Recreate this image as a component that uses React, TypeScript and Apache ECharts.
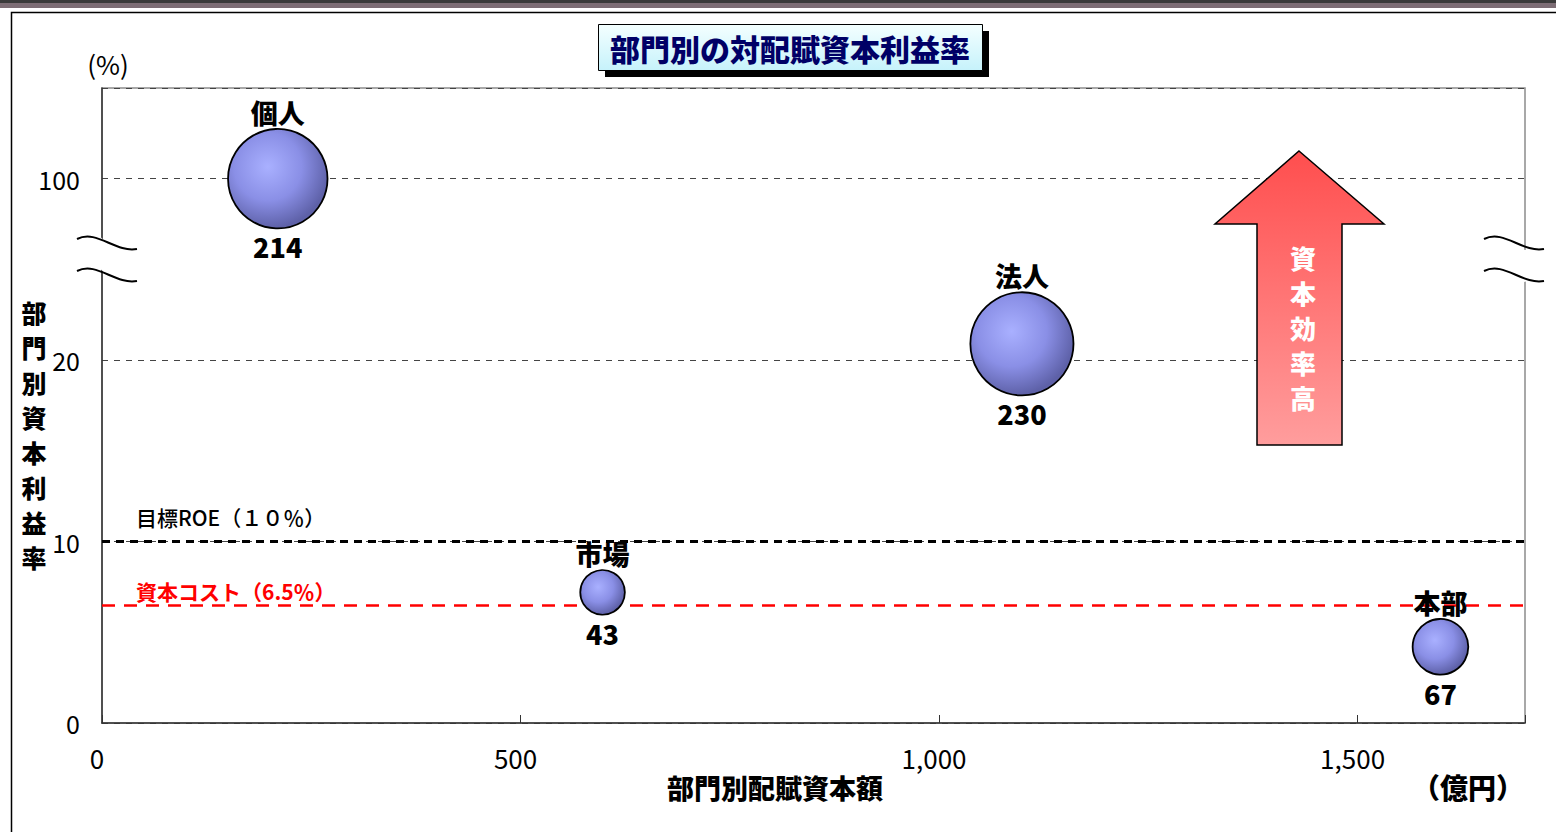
import React, { useEffect, useRef } from "react";
import * as echarts from "echarts";

// Business segments and their figures
const segments = ["個人", "法人", "市場", "本部"];
const allocatedCapital = [210, 1099, 598, 1599]; // 億円
const returnOnCapital = [100, 20.9, 7.2, 4.2]; // %
const segmentProfit = [214, 230, 43, 67]; // bubble size / label

// Reference lines
const targetRoe = 10;
const capitalCost = 6.5;

// Axis ticks
const xTicks = [0, 500, 1000, 1500];
const yTickLabels = ["0", "10", "20", "100"];

const FONT = "'Noto Sans CJK JP', 'Noto Sans', sans-serif";

// values above the break are drawn 70 points lower (100 sits at the 30 slot)
const toAxis = (v: number) => (v > 25 ? v - 70 : v);
const bubbleSize = (p: number) => 6.8 * Math.sqrt(p);

const bubbleFill = {
  type: "radial",
  x: 0.4,
  y: 0.38,
  r: 0.62,
  colorStops: [
    { offset: 0, color: "#a9b0ff" },
    { offset: 0.55, color: "#8a8fe6" },
    { offset: 1, color: "#5e61a8" },
  ],
};

export default function App() {
  const ref = useRef<HTMLDivElement>(null);

  useEffect(() => {
    document.body.style.margin = "0";
    const chart = echarts.init(ref.current!, null, { renderer: "svg" });

    const points = segments.map((name, i) => ({
      name,
      value: [allocatedCapital[i], toAxis(returnOnCapital[i]), segmentProfit[i]],
    }));

    // left & right axis break marks
    const breakMark = (x0: number) => {
      const w = 60;
      const curve = (y: number) => ({
        type: "bezierCurve",
        z: 101,
        shape: {
          x1: x0, y1: y,
          cpx1: x0 + 20, cpy1: y - 10,
          cpx2: x0 + 38, cpy2: y + 14,
          x2: x0 + w, y2: y + 10,
        },
        style: { stroke: "#000", lineWidth: 2, fill: null },
      });
      return [
        {
          type: "polygon",
          z: 100,
          shape: {
            points: [
              [x0, 239], [x0 + 20, 234], [x0 + 38, 250], [x0 + w, 249],
              [x0 + w, 280], [x0 + 38, 282], [x0 + 20, 266], [x0, 271],
            ],
          },
          style: { fill: "#fff" },
        },
        curve(239),
        curve(271),
      ];
    };

    chart.setOption({
      animation: false,
      grid: {
        left: 102,
        top: 88,
        right: 31,
        bottom: 109,
        show: true,
        borderColor: "#8c8c8c",
        borderWidth: 1.5,
      },
      xAxis: {
        type: "value",
        min: 0,
        max: 1700,
        interval: 500,
        axisLine: { lineStyle: { color: "#333", width: 1.5 } },
        axisTick: { show: true, inside: true, length: 8, lineStyle: { color: "#333" } },
        splitLine: { show: false },
        axisLabel: {
          margin: 21,
          color: "#000",
          fontFamily: FONT,
          fontSize: 26,
          padding: [0, 10, 0, 0],
          formatter: (v: number) =>
            xTicks.includes(v) ? v.toLocaleString("en-US") : "",
        },
      },
      yAxis: {
        type: "value",
        min: 0,
        max: 35,
        interval: 10,
        axisLine: { show: true, lineStyle: { color: "#333", width: 1.5 } },
        axisTick: { show: false },
        splitLine: { lineStyle: { color: "#444", type: [6, 6], width: 1 } },
        axisLabel: {
          margin: 22,
          color: "#000",
          fontFamily: FONT,
          fontSize: 25,
          padding: [6, 0, 0, 0],
          showMaxLabel: false,
          formatter: (v: number) => yTickLabels[v / 10] ?? "",
        },
      },
      series: [
        {
          type: "scatter",
          data: points,
          symbolSize: (v: number[]) => bubbleSize(v[2]),
          itemStyle: { color: bubbleFill, borderColor: "#000", borderWidth: 1.8, opacity: 1 },
          label: {
            show: true,
            position: "top",
            distance: 2,
            formatter: (p: any) => p.name,
            color: "#000",
            fontFamily: FONT,
            fontWeight: 900,
            fontSize: 27,
          },
          markLine: {
            silent: true,
            symbol: "none",
            z: 1,
            data: [
              {
                yAxis: targetRoe,
                lineStyle: { color: "#000", type: [8, 6], width: 3 },
                label: {
                  show: true,
                  position: "insideStartTop",
                  distance: [34, 14],
                  formatter: "目標ROE（１０％）",
                  color: "#000",
                  fontFamily: FONT,
                  fontWeight: 500,
                  fontSize: 21,
                },
              },
              {
                yAxis: capitalCost,
                lineStyle: { color: "#ff0000", type: [13, 9], width: 2.5 },
                label: {
                  show: true,
                  position: "insideStartTop",
                  distance: [34, 4],
                  formatter: "資本コスト（6.5％）",
                  color: "#ff0000",
                  fontFamily: FONT,
                  fontWeight: "bold",
                  fontSize: 21,
                },
              },
            ],
          },
        },
        {
          type: "scatter",
          silent: true,
          data: points,
          symbolSize: (v: number[]) => bubbleSize(v[2]),
          itemStyle: { color: "#000", opacity: 0 },
          label: {
            show: true,
            position: "bottom",
            distance: 5,
            opacity: 1,
            formatter: (p: any) => String(p.value[2]),
            color: "#000",
            fontFamily: FONT,
            fontWeight: 900,
            fontSize: 27,
          },
        },
      ],
      graphic: [
        // banner at the top edge
        { type: "rect", z: 100, shape: { x: 0, y: 0, width: 1556, height: 3 }, style: { fill: "#3a3a3a" } },
        { type: "rect", z: 100, shape: { x: 0, y: 3, width: 1556, height: 5 }, style: { fill: "#7d6d75" } },
        // outer frame
        {
          type: "rect",
          z: 100,
          shape: { x: 11.5, y: 12.5, width: 1600, height: 900 },
          style: { fill: null, stroke: "#000", lineWidth: 1.5 },
        },
        // title box with drop shadow
        { type: "rect", z: 100, shape: { x: 605, y: 31, width: 384, height: 46 }, style: { fill: "#000" } },
        {
          type: "rect",
          z: 101,
          shape: { x: 598.5, y: 24.5, width: 384, height: 46 },
          style: {
            fill: {
              type: "linear", x: 0, y: 0, x2: 0, y2: 1,
              colorStops: [
                { offset: 0, color: "#f4ffff" },
                { offset: 1, color: "#c6f2fb" },
              ],
            },
            stroke: "#000",
            lineWidth: 1,
          },
        },
        {
          type: "text",
          z: 102,
          x: 790,
          y: 48,
          style: {
            text: "部門別の対配賦資本利益率",
            fill: "#000066",
            font: `900 30px ${FONT}`,
            align: "center",
            verticalAlign: "middle",
          },
        },
        // axis titles
        {
          type: "text",
          z: 100,
          x: 108,
          y: 63,
          style: { text: "(%)", fill: "#000", font: `26px ${FONT}`, align: "center", verticalAlign: "middle" },
        },
        {
          type: "text",
          z: 100,
          x: 34,
          y: 434,
          style: {
            text: "部門別資本利益率".split("").join("\n"),
            fill: "#000",
            font: `900 25px ${FONT}`,
            lineHeight: 35,
            align: "center",
            verticalAlign: "middle",
          },
        },
        {
          type: "text",
          z: 100,
          x: 775,
          y: 787,
          style: { text: "部門別配賦資本額", fill: "#000", font: `900 27px ${FONT}`, align: "center", verticalAlign: "middle" },
        },
        {
          type: "text",
          z: 100,
          x: 1468,
          y: 787,
          style: { text: "（億円）", fill: "#000", font: `900 28px ${FONT}`, align: "center", verticalAlign: "middle" },
        },
        // "higher capital efficiency" arrow
        {
          type: "polygon",
          z: 100,
          shape: {
            points: [
              [1299, 151], [1384, 224], [1342, 224], [1342, 445],
              [1257, 445], [1257, 224], [1215, 224],
            ],
          },
          style: {
            fill: {
              type: "linear", x: 0, y: 0, x2: 0, y2: 1,
              colorStops: [
                { offset: 0, color: "#ff4e4e" },
                { offset: 1, color: "#ff9d9d" },
              ],
            },
            stroke: "#000",
            lineWidth: 1.5,
          },
        },
        {
          type: "text",
          z: 101,
          x: 1303,
          y: 327,
          style: {
            text: "資本効率高".split("").join("\n"),
            fill: "#fff",
            font: `900 26px ${FONT}`,
            lineHeight: 35,
            align: "center",
            verticalAlign: "middle",
          },
        },
        ...breakMark(77),
        ...breakMark(1484),
      ],
    });

    return () => chart.dispose();
  }, []);

  return <div ref={ref} style={{ width: 1556, height: 832 }} />;
}
